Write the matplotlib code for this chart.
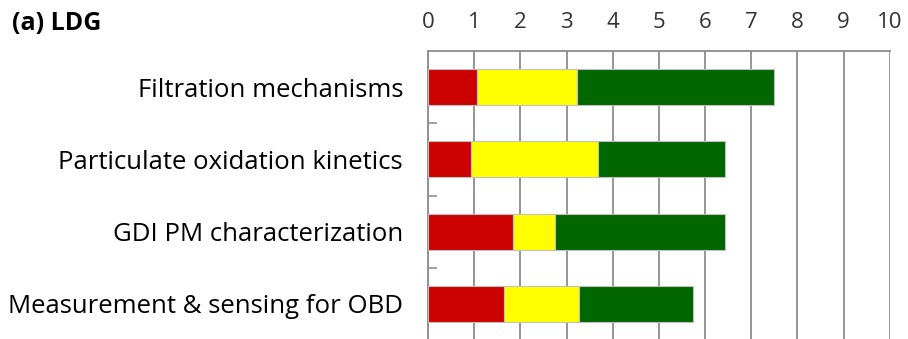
import matplotlib.pyplot as plt
import numpy as np

plt.rcParams['font.family'] = ['Open Sans', 'DejaVu Sans']

# scores per topic: red / yellow / green segments
categories = ['Filtration mechanisms', 'Particulate oxidation kinetics',
              'GDI PM characterization', 'Measurement & sensing for OBD']
red = [1.07, 0.93, 1.85, 1.65]
yellow = [2.15, 2.75, 0.91, 1.62]
green = [4.28, 2.76, 3.68, 2.46]
seg_colors = ['#cc0000', '#ffff00', '#006600']
xticks = list(range(0, 11))

fig = plt.figure(figsize=(9.08, 3.39), dpi=100)
ax = fig.add_axes([0.4714, -0.003, 0.5086, 0.8526])

y = np.arange(len(categories))
left = np.zeros(len(categories))
for vals, c in zip([red, yellow, green], seg_colors):
    ax.barh(y, vals, left=left, height=0.5, color=c, edgecolor='#bfbfbf',
            linewidth=0.8, zorder=3)
    left += np.array(vals)

ax.set_xlim(0, 10)
ax.set_ylim(len(categories) - 0.5, -0.5)
ax.set_xticks(xticks)
ax.xaxis.tick_top()
ax.tick_params(axis='x', length=0, pad=13, labelsize=16, labelcolor='#333333')
ax.grid(axis='x', color='#8c8c8c', linewidth=1.3, zorder=0)

# category labels, with small tick marks between the categories
ax.set_yticks(y)
ax.set_yticklabels(categories, fontsize=18.5)
ax.tick_params(axis='y', length=0, pad=18)
ax.set_yticks(np.arange(0.5, len(categories) - 0.5, 1), minor=True)
ax.tick_params(axis='y', which='minor', direction='in', length=6.5,
               width=1.3, color='#999999')

for s in ['right', 'bottom']:
    ax.spines[s].set_visible(False)
for s in ['left', 'top']:
    ax.spines[s].set_color('#8c8c8c')
    ax.spines[s].set_linewidth(1.3)

fig.text(0.013, 0.932, '(a) LDG', fontsize=18, fontweight='bold', va='center')

fig.savefig('out.png', dpi=100)
